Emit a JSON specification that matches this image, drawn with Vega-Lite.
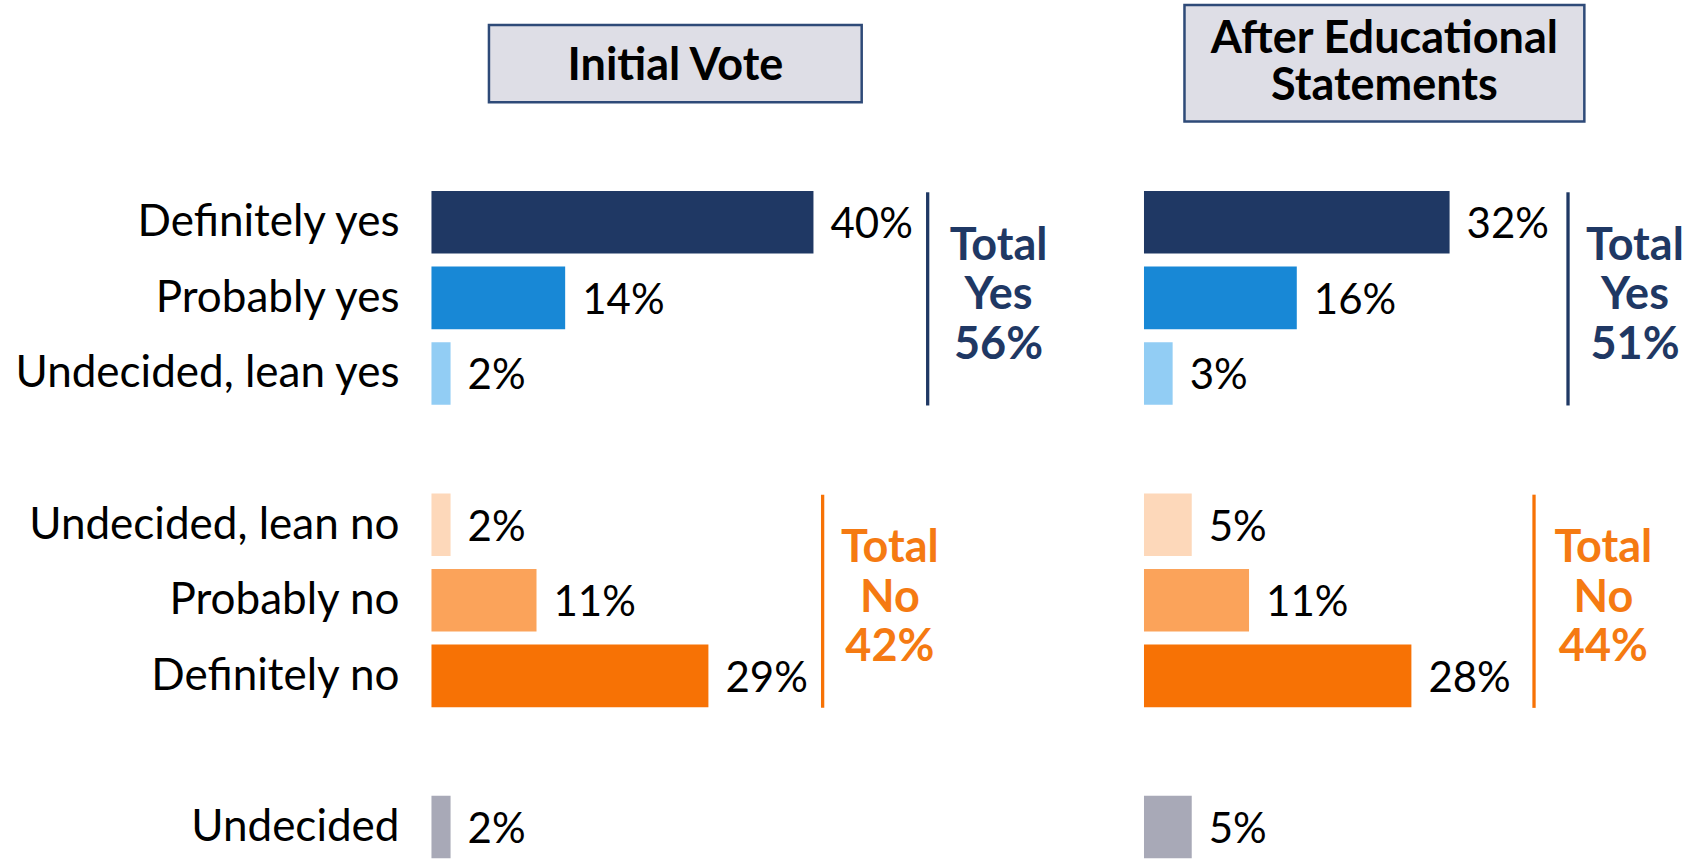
{
  "$schema": "https://vega.github.io/schema/vega-lite/v6.json",
  "padding": 0,
  "spacing": 0,
  "bounds": "flush",
  "background": "white",
  "config": {"view": {"stroke": null}, "concat": {"spacing": 0}},
  "datasets": {
    "votes": [
      {"panel": "Initial Vote", "response": "Definitely yes", "pct": 0.40},
      {"panel": "Initial Vote", "response": "Probably yes", "pct": 0.14},
      {"panel": "Initial Vote", "response": "Undecided, lean yes", "pct": 0.02},
      {"panel": "Initial Vote", "response": "Undecided, lean no", "pct": 0.02},
      {"panel": "Initial Vote", "response": "Probably no", "pct": 0.11},
      {"panel": "Initial Vote", "response": "Definitely no", "pct": 0.29},
      {"panel": "Initial Vote", "response": "Undecided", "pct": 0.02},
      {"panel": "After Educational Statements", "response": "Definitely yes", "pct": 0.32},
      {"panel": "After Educational Statements", "response": "Probably yes", "pct": 0.16},
      {"panel": "After Educational Statements", "response": "Undecided, lean yes", "pct": 0.03},
      {"panel": "After Educational Statements", "response": "Undecided, lean no", "pct": 0.05},
      {"panel": "After Educational Statements", "response": "Probably no", "pct": 0.11},
      {"panel": "After Educational Statements", "response": "Definitely no", "pct": 0.28},
      {"panel": "After Educational Statements", "response": "Undecided", "pct": 0.05}
    ],
    "totals": [
      {"panel": "Initial Vote", "group": "Yes", "label": "Total\nYes\n56%"},
      {"panel": "Initial Vote", "group": "No", "label": "Total\nNo\n42%"},
      {"panel": "After Educational Statements", "group": "Yes", "label": "Total\nYes\n51%"},
      {"panel": "After Educational Statements", "group": "No", "label": "Total\nNo\n44%"}
    ],
    "panels": [
      {"panel": "Initial Vote", "title": "Initial Vote"},
      {"panel": "After Educational Statements", "title": "After Educational\nStatements"}
    ]
  },
  "hconcat": [
    {
      "width": 1080,
      "height": 860,
      "resolve": {"scale": {"y": "independent"}},
      "layer": [
        {
          "data": {"name": "panels"},
          "transform": [{"filter": "datum.panel === 'Initial Vote'"}],
          "layer": [
            {
              "mark": {"type": "rect", "fill": "#DEDEE6", "stroke": "#2E4A78", "strokeWidth": 2.5},
              "encoding": {
                "x": {"datum": 0.0602, "type": "quantitative", "scale": {"domain": [-0.4518, 0.6791], "nice": false, "zero": false}, "axis": null},
                "x2": {"datum": 0.4505},
                "y": {"datum": 2.907, "type": "quantitative", "scale": {"domain": [0, 100], "reverse": true, "nice": false, "zero": false}, "axis": null},
                "y2": {"datum": 11.895}
              }
            },
            {
              "mark": {"type": "text", "font": "Lato", "fontWeight": "bold", "fontSize": 45, "align": "center", "baseline": "alphabetic", "color": "#000000", "lineBreak": "\n", "lineHeight": 47},
              "encoding": {
                "x": {"datum": 0.2554, "type": "quantitative", "scale": {"domain": [-0.4518, 0.6791], "nice": false, "zero": false}, "axis": null},
                "y": {"datum": 9.25, "type": "quantitative", "scale": {"domain": [0, 100], "reverse": true, "nice": false, "zero": false}, "axis": null},
                "text": {"field": "title"}
              }
            }
          ]
        },
        {
          "data": {"name": "votes"},
          "transform": [{"filter": "datum.panel === 'Initial Vote'"}],
          "encoding": {
            "y": {"field": "response", "type": "nominal", "axis": null,
              "scale": {"domain": ["header", "Definitely yes", "Probably yes", "Undecided, lean yes", "gap1", "Undecided, lean no", "Probably no", "Definitely no", "gap2", "Undecided"], "paddingInner": 0.172, "paddingOuter": 0.774, "align": 0.986, "round": false}}
          },
          "layer": [
            {
              "mark": {"type": "bar"},
              "encoding": {
                "x": {"field": "pct", "type": "quantitative", "axis": null, "scale": {"domain": [-0.4518, 0.6791], "nice": false, "zero": false}},
                "color": {"field": "response", "type": "nominal", "legend": null,
                  "scale": {"domain": ["Definitely yes", "Probably yes", "Undecided, lean yes", "Undecided, lean no", "Probably no", "Definitely no", "Undecided"],
                            "range": ["#1F3864", "#1888D6", "#92CDF4", "#FDD8BA", "#FBA35A", "#F77205", "#A8A9B7"]}}
              }
            },
            {
              "mark": {"type": "text", "font": "Lato", "fontSize": 42, "align": "left", "baseline": "middle", "dx": 17, "dy": 3, "color": "#000000"},
              "encoding": {
                "x": {"field": "pct", "type": "quantitative", "axis": null},
                "text": {"field": "pct", "type": "quantitative", "format": ".0%"}
              }
            },
            {
              "mark": {"type": "text", "font": "Lato", "fontSize": 44, "align": "right", "baseline": "middle", "dx": -32, "dy": 1, "color": "#000000"},
              "encoding": {
                "x": {"datum": 0, "type": "quantitative", "axis": null},
                "text": {"field": "response"}
              }
            },
            {
              "data": {"name": "totals"},
              "transform": [{"filter": "datum.panel === 'Initial Vote' && datum.group === 'Yes'"}],
              "mark": {"type": "rule", "color": "#1F3864", "strokeWidth": 3.3, "yOffset": -30, "y2Offset": 32},
              "encoding": {
                "x": {"datum": 0.5196, "type": "quantitative", "axis": null},
                "y": {"datum": "Definitely yes", "type": "nominal", "axis": null},
                "y2": {"datum": "Undecided, lean yes"}
              }
            },
            {
              "data": {"name": "totals"},
              "transform": [{"filter": "datum.panel === 'Initial Vote' && datum.group === 'No'"}],
              "mark": {"type": "rule", "color": "#F77205", "strokeWidth": 3.3, "yOffset": -30, "y2Offset": 32},
              "encoding": {
                "x": {"datum": 0.4096, "type": "quantitative", "axis": null},
                "y": {"datum": "Undecided, lean no", "type": "nominal", "axis": null},
                "y2": {"datum": "Definitely no"}
              }
            },
            {
              "data": {"name": "totals"},
              "transform": [{"filter": "datum.panel === 'Initial Vote' && datum.group === 'Yes'"}],
              "mark": {"type": "text", "font": "Lato", "fontWeight": "bold", "fontSize": 45, "lineBreak": "\n", "lineHeight": 49.5, "align": "center", "baseline": "alphabetic", "dy": -38, "color": "#1F3864"},
              "encoding": {
                "x": {"datum": 0.5938, "type": "quantitative", "axis": null},
                "y": {"datum": "Probably yes", "type": "nominal", "axis": null},
                "text": {"field": "label"}
              }
            },
            {
              "data": {"name": "totals"},
              "transform": [{"filter": "datum.panel === 'Initial Vote' && datum.group === 'No'"}],
              "mark": {"type": "text", "font": "Lato", "fontWeight": "bold", "fontSize": 45, "lineBreak": "\n", "lineHeight": 49.5, "align": "center", "baseline": "alphabetic", "dy": -38, "color": "#F57A12"},
              "encoding": {
                "x": {"datum": 0.480, "type": "quantitative", "axis": null},
                "y": {"datum": "Probably no", "type": "nominal", "axis": null},
                "text": {"field": "label"}
              }
            }
          ]
        }
      ]
    },
    {
      "width": 620,
      "height": 860,
      "resolve": {"scale": {"y": "independent"}},
      "layer": [
        {
          "data": {"name": "panels"},
          "transform": [{"filter": "datum.panel === 'After Educational Statements'"}],
          "layer": [
            {
              "mark": {"type": "rect", "fill": "#DEDEE6", "stroke": "#2E4A78", "strokeWidth": 2.5},
              "encoding": {
                "x": {"datum": 0.0424, "type": "quantitative", "scale": {"domain": [-0.0670, 0.5822], "nice": false, "zero": false}, "axis": null},
                "x2": {"datum": 0.4611},
                "y": {"datum": 0.581, "type": "quantitative", "scale": {"domain": [0, 100], "reverse": true, "nice": false, "zero": false}, "axis": null},
                "y2": {"datum": 14.14}
              }
            },
            {
              "mark": {"type": "text", "font": "Lato", "fontWeight": "bold", "fontSize": 45, "align": "center", "baseline": "alphabetic", "color": "#000000", "lineBreak": "\n", "lineHeight": 47},
              "encoding": {
                "x": {"datum": 0.2517, "type": "quantitative", "scale": {"domain": [-0.0670, 0.5822], "nice": false, "zero": false}, "axis": null},
                "y": {"datum": 6.198, "type": "quantitative", "scale": {"domain": [0, 100], "reverse": true, "nice": false, "zero": false}, "axis": null},
                "text": {"field": "title"}
              }
            }
          ]
        },
        {
          "data": {"name": "votes"},
          "transform": [{"filter": "datum.panel === 'After Educational Statements'"}],
          "encoding": {
            "y": {"field": "response", "type": "nominal", "axis": null,
              "scale": {"domain": ["header", "Definitely yes", "Probably yes", "Undecided, lean yes", "gap1", "Undecided, lean no", "Probably no", "Definitely no", "gap2", "Undecided"], "paddingInner": 0.172, "paddingOuter": 0.774, "align": 0.986, "round": false}}
          },
          "layer": [
            {
              "mark": {"type": "bar"},
              "encoding": {
                "x": {"field": "pct", "type": "quantitative", "axis": null, "scale": {"domain": [-0.0670, 0.5822], "nice": false, "zero": false}},
                "color": {"field": "response", "type": "nominal", "legend": null,
                  "scale": {"domain": ["Definitely yes", "Probably yes", "Undecided, lean yes", "Undecided, lean no", "Probably no", "Definitely no", "Undecided"],
                            "range": ["#1F3864", "#1888D6", "#92CDF4", "#FDD8BA", "#FBA35A", "#F77205", "#A8A9B7"]}}
              }
            },
            {
              "mark": {"type": "text", "font": "Lato", "fontSize": 42, "align": "left", "baseline": "middle", "dx": 17, "dy": 3, "color": "#000000"},
              "encoding": {
                "x": {"field": "pct", "type": "quantitative", "axis": null},
                "text": {"field": "pct", "type": "quantitative", "format": ".0%"}
              }
            },
            {
              "data": {"name": "totals"},
              "transform": [{"filter": "datum.panel === 'After Educational Statements' && datum.group === 'Yes'"}],
              "mark": {"type": "rule", "color": "#1F3864", "strokeWidth": 3.3, "yOffset": -30, "y2Offset": 32},
              "encoding": {
                "x": {"datum": 0.4440, "type": "quantitative", "axis": null},
                "y": {"datum": "Definitely yes", "type": "nominal", "axis": null},
                "y2": {"datum": "Undecided, lean yes"}
              }
            },
            {
              "data": {"name": "totals"},
              "transform": [{"filter": "datum.panel === 'After Educational Statements' && datum.group === 'No'"}],
              "mark": {"type": "rule", "color": "#F77205", "strokeWidth": 3.3, "yOffset": -30, "y2Offset": 32},
              "encoding": {
                "x": {"datum": 0.4084, "type": "quantitative", "axis": null},
                "y": {"datum": "Undecided, lean no", "type": "nominal", "axis": null},
                "y2": {"datum": "Definitely no"}
              }
            },
            {
              "data": {"name": "totals"},
              "transform": [{"filter": "datum.panel === 'After Educational Statements' && datum.group === 'Yes'"}],
              "mark": {"type": "text", "font": "Lato", "fontWeight": "bold", "fontSize": 45, "lineBreak": "\n", "lineHeight": 49.5, "align": "center", "baseline": "alphabetic", "dy": -38, "color": "#1F3864"},
              "encoding": {
                "x": {"datum": 0.5141, "type": "quantitative", "axis": null},
                "y": {"datum": "Probably yes", "type": "nominal", "axis": null},
                "text": {"field": "label"}
              }
            },
            {
              "data": {"name": "totals"},
              "transform": [{"filter": "datum.panel === 'After Educational Statements' && datum.group === 'No'"}],
              "mark": {"type": "text", "font": "Lato", "fontWeight": "bold", "fontSize": 45, "lineBreak": "\n", "lineHeight": 49.5, "align": "center", "baseline": "alphabetic", "dy": -38, "color": "#F57A12"},
              "encoding": {
                "x": {"datum": 0.481, "type": "quantitative", "axis": null},
                "y": {"datum": "Probably no", "type": "nominal", "axis": null},
                "text": {"field": "label"}
              }
            }
          ]
        }
      ]
    }
  ]
}
